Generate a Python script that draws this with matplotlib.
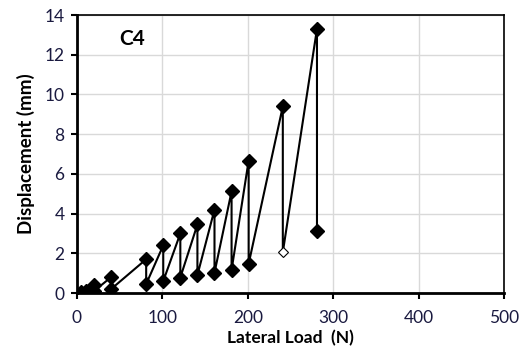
import matplotlib.pyplot as plt

# Load path (N) and displacement (mm) in test order
loads = [5, 10, 20, 20, 40, 40, 81, 81, 101, 101, 121, 121, 141, 141,
         161, 161, 181, 181, 201, 201, 241, 241, 281, 281]
disp = [0.05, 0.1, 0.4, 0.1, 0.8, 0.2, 1.7, 0.45, 2.4, 0.6, 3.0, 0.78,
        3.45, 0.9, 4.2, 1.02, 5.12, 1.16, 6.67, 1.47, 9.4, 2.05, 13.3, 3.1]
hollow_idx = 21  # the 240 N residual point is drawn open

x_ticks = [0, 100, 200, 300, 400, 500]
y_ticks = [0, 2, 4, 6, 8, 10, 12, 14]

plt.rcParams['font.family'] = ['Lato', 'DejaVu Sans']
text_col = '#1a1a40'

fig = plt.figure(figsize=(5.23, 3.6), dpi=100)
ax = fig.add_axes([77/523, 1 - 293/360, 427/523, 278/360])

ax.plot(loads, disp, '-', color='black', lw=1.5, zorder=3)
solid = [i for i in range(len(loads)) if i != hollow_idx]
ax.plot([loads[i] for i in solid], [disp[i] for i in solid], 'D',
        color='black', ms=7.5, zorder=4)
ax.plot(loads[hollow_idx], disp[hollow_idx], 'D', mfc='white', mec='black',
        mew=0.8, ms=5.5, zorder=5)

ax.set_xlim(0, 500)
ax.set_ylim(0, 14)
ax.set_xticks(x_ticks)
ax.set_yticks(y_ticks)
ax.grid(True, color='#d9d9d9', lw=1)
ax.set_axisbelow(True)

for s in ['top', 'right']:
    ax.spines[s].set_linewidth(1.2)
for s in ['left', 'bottom']:
    ax.spines[s].set_linewidth(2)
ax.tick_params(direction='out', length=4, width=1.5, labelsize=12.5,
               labelcolor=text_col)
ax.tick_params(axis='x', pad=8)
ax.tick_params(axis='y', pad=5)

ax.set_xlabel('Lateral Load  (N)', fontsize=12.5, fontweight='bold',
              color='black', labelpad=3)
ax.set_ylabel('Displacement (mm)', fontsize=13.5, fontweight='bold',
              color='black', labelpad=7)
ax.text(64, 12.8, 'C4', fontsize=15, fontweight='bold', color='black',
        ha='center', va='center')

fig.savefig('out.png', dpi=100)
